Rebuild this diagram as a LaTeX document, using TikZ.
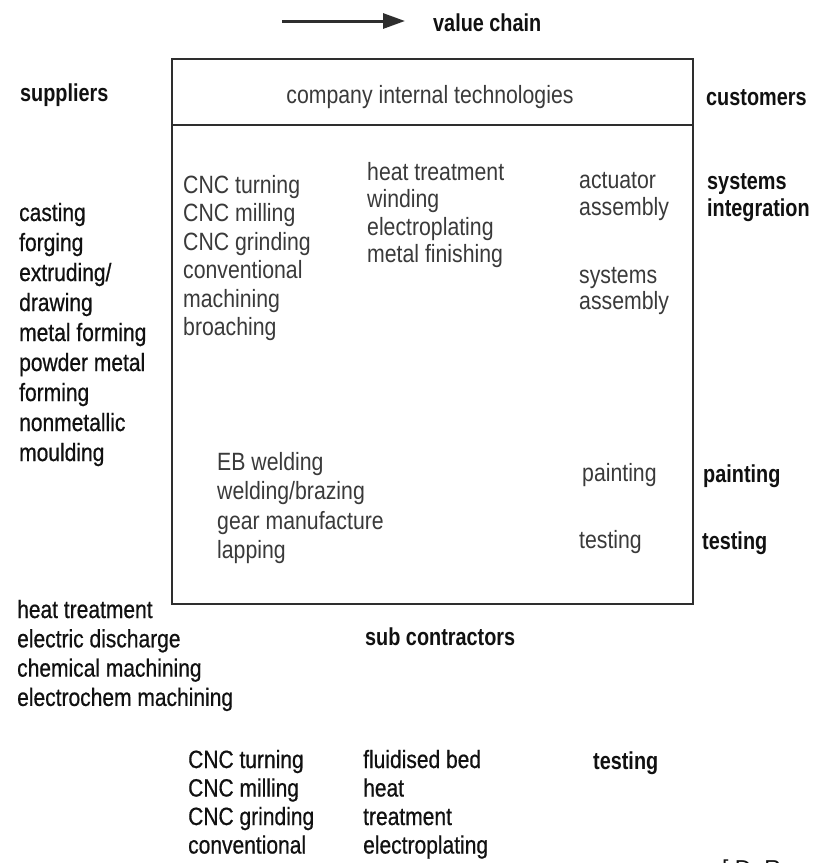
\documentclass[tikz,border=0pt]{standalone}
\usepackage{fontspec}
\setmainfont{Liberation Sans}[FakeStretch=0.85]
\newfontfamily\outerfont{Liberation Sans}[FakeStretch=0.84, FakeBold=0.6]
\newfontfamily\headfont{Liberation Sans}[FakeStretch=0.81]
\newfontfamily\notefont{Liberation Sans}
\usetikzlibrary{arrows.meta}
\definecolor{ink}{HTML}{111111}
\definecolor{grayink}{HTML}{3A3A3A}
\definecolor{frame}{HTML}{2E2E2E}
\begin{document}
\begin{tikzpicture}[x=1pt,y=-1pt,
  txt/.style={anchor=base west, inner sep=0pt},
  outer/.style={txt, text=ink, font=\outerfont\fontsize{25}{28}\selectfont},
  inner/.style={txt, text=grayink, font=\fontsize{25}{28}\selectfont},
  head/.style={anchor=base west, inner sep=0pt, text=ink,
    font=\headfont\bfseries\fontsize{24.5}{28}\selectfont},
  frameline/.style={draw=frame, line width=2.4pt},
]
\useasboundingbox (0,0) rectangle (813,863);
\fill[white] (0,0) rectangle (813,863);

% value chain arrow and caption
\coordinate (vcstart) at (282,21);
\coordinate (vctip) at (405,21);
\draw[line width=3pt, frame, -{Triangle[length=22pt,width=15pt]}] (vcstart) -- (vctip);
\node[head] (vc) at (433,31) {value chain};

% company frame with its header strip
\node[frameline, rectangle, inner sep=0pt, minimum width=521pt, minimum height=545pt]
  (box) at (432.5,331.5) {};
\coordinate (divL) at (172,125);
\coordinate (divR) at (693,125);
\draw[frameline] (divL) -- (divR);
\node[inner, anchor=base] (company) at (430,103) {company internal technologies};

% column headings outside the frame
\node[head] (suppliers) at (20,101) {suppliers};
\node[head] (customers) at (706,105) {customers};

% suppliers' processes
\foreach \t [count=\i from 0] in {casting, forging, extruding/, drawing,
    metal forming, powder metal, forming, nonmetallic, moulding}
  \node[outer] (sup\i) at (19,221+30*\i) {\t};

% in-house processes, first column
\foreach \t [count=\i from 0] in {CNC turning, CNC milling, CNC grinding,
    conventional, machining, broaching}
  \node[inner] (int\i) at (183,193+28.5*\i) {\t};

% in-house processes, second column
\foreach \t [count=\i from 0] in {heat treatment, winding, electroplating,
    metal finishing}
  \node[inner] (fin\i) at (367,180+27.5*\i) {\t};

% assembly steps
\node[inner] (act1) at (579,188) {actuator};
\node[inner] (act2) at (579,215) {assembly};
\node[inner] (sys1) at (579,283) {systems};
\node[inner] (sys2) at (579,309) {assembly};

% customers' share
\node[head] (integ1) at (707,189) {systems};
\node[head] (integ2) at (707,216) {integration};

% joining processes
\foreach \t [count=\i from 0] in {EB welding, welding/brazing,
    gear manufacture, lapping}
  \node[inner] (join\i) at (217,470+29.5*\i) {\t};

\node[inner] (paintI) at (582,481) {painting};
\node[inner] (testI) at (579,548) {testing};
\node[head] (paintC) at (703,482) {painting};
\node[head] (testC) at (702,549) {testing};

% sub contractors
\foreach \t [count=\i from 0] in {heat treatment, electric discharge,
    chemical machining, electrochem machining}
  \node[outer] (subL\i) at (17,618+29.3*\i) {\t};

\node[head] (subcon) at (365,645) {sub contractors};

\foreach \t [count=\i from 0] in {CNC turning, CNC milling, CNC grinding,
    conventional}
  \node[outer] (subA\i) at (188,768+28.5*\i) {\t};
\foreach \t [count=\i from 0] in {fluidised bed, heat, treatment,
    electroplating}
  \node[outer] (subB\i) at (363,768+28.5*\i) {\t};
\node[head] (subtest) at (593,769) {testing};

% source note, running off the lower edge
\node[anchor=base west, inner sep=0pt, text=ink, font=\notefont\fontsize{23}{28}\selectfont]
  (source) at (722,876) {[ D. R};
\end{tikzpicture}
\end{document}
